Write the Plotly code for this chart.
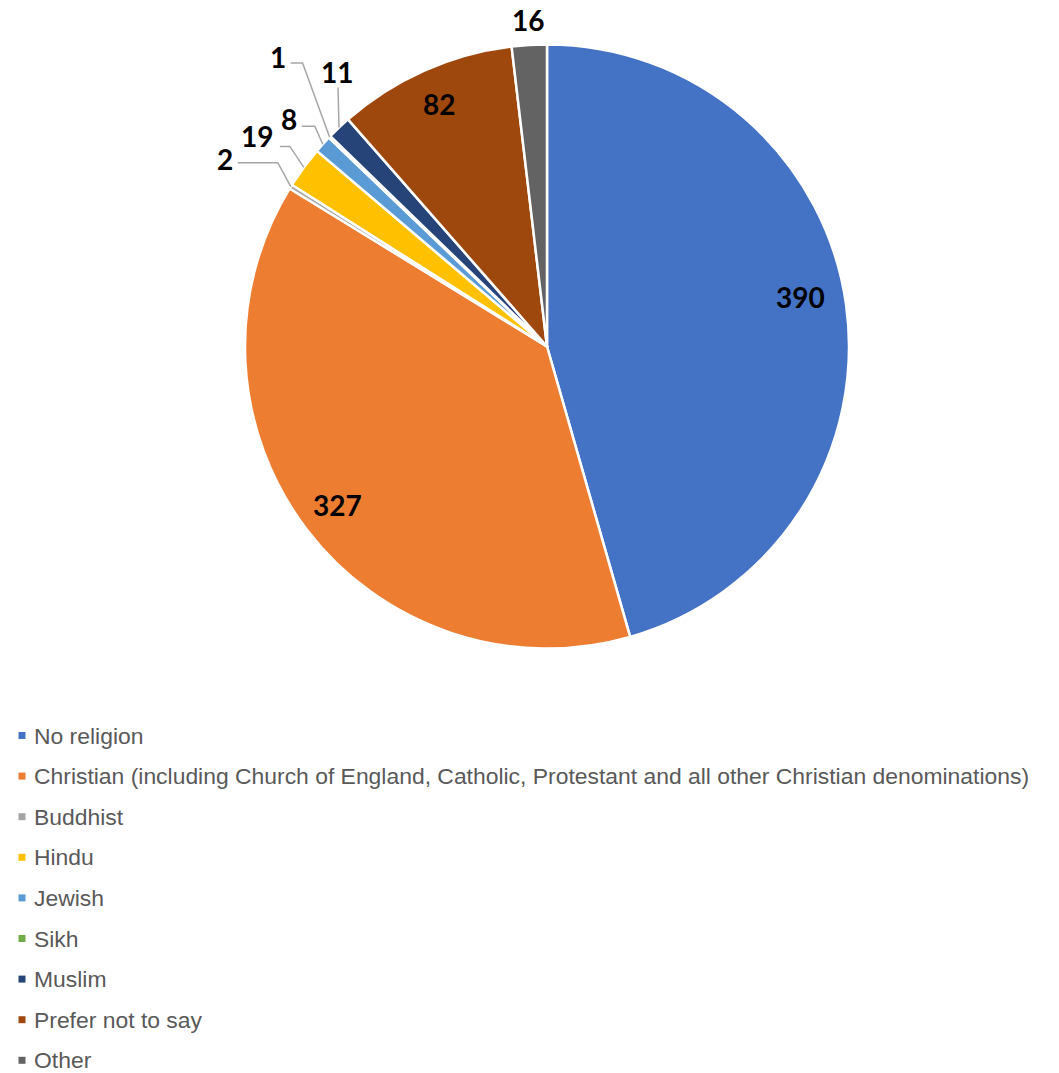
import math
import plotly.graph_objects as go

# ---- data ----
categories = [
    "No religion",
    "Christian (including Church of England, Catholic, Protestant and all other Christian denominations)",
    "Buddhist",
    "Hindu",
    "Jewish",
    "Sikh",
    "Muslim",
    "Prefer not to say",
    "Other",
]
counts = [390, 327, 2, 19, 8, 1, 11, 82, 16]
colors = ["#4472C4", "#ED7D31", "#A5A5A5", "#FFC000", "#5B9BD5",
          "#70AD47", "#264478", "#9E480E", "#636363"]

# ---- layout/style ----
W, H = 1059, 1073
CX, CY, R = 547, 346.5, 302          # pie centre / radius in px
# label placement style: ("in", radius fraction, nudge dx, nudge dy) or
# ("out", label offset from slice edge, leader line points offsets)
label_style = [
    ("in", 0.86, -4, -13),
    ("in", 0.87, 0, 0),
    ("out", (-66, -28), [(-13, -24), (-53, -24)]),
    ("out", (-47, -31), [(-14, -21), (-24, -21)]),
    ("out", (-34, -25), [(-8, -18), (-21, -18)]),
    ("out", (-52, -80), [(-27, -74), (-39, -74)]),
    ("out", (-2, -56), [(-1, -40)]),
    ("in", 0.88, 0, 0),
    ("out", (-1, -25), []),
]
LABEL_FONT = dict(family="Lato, 'Open Sans', sans-serif", size=28, color="#000000")
LEG_FONT = dict(family="Liberation Sans, Arial, sans-serif", size=22.9, color="#595959")
LEG_Y0, LEG_DY, LEG_SQ_X, LEG_TXT_X, LEG_SQ = 735.5, 40.6, 22, 32, 7


def px(x):
    return x / W


def py(y):
    return 1 - y / H


fig = go.Figure()
fig.add_trace(go.Pie(
    labels=categories,
    values=counts,
    sort=False,
    direction="clockwise",
    rotation=0,
    marker=dict(colors=colors, line=dict(color="#FFFFFF", width=2.5)),
    textinfo="none",
    hoverinfo="label+value",
    showlegend=False,
    domain=dict(x=[px(CX - R), px(CX + R)], y=[py(CY + R), py(CY - R)]),
))

annotations = []
shapes = []
total = sum(counts)
cum = 0
for v, st in zip(counts, label_style):
    mid = (cum + v / 2) / total * 2 * math.pi
    cum += v
    sx, sy = math.sin(mid), -math.cos(mid)
    if st[0] == "in":
        _, frac, ndx, ndy = st
        lx = CX + frac * R * sx + ndx
        ly = CY + frac * R * sy + ndy
    else:
        _, (ox, oy), pts = st
        ax_, ay_ = CX + R * sx, CY + R * sy
        lx, ly = ax_ + ox, ay_ + oy
        if pts:
            path = "M %f %f" % (px(ax_), py(ay_))
            for (ex, ey) in pts:
                path += " L %f %f" % (px(ax_ + ex), py(ay_ + ey))
            shapes.append(dict(type="path", xref="paper", yref="paper", path=path,
                               line=dict(color="#A6A6A6", width=1.5)))
    annotations.append(dict(x=px(lx), y=py(ly), xref="paper", yref="paper",
                            text="<b>%d</b>" % v, showarrow=False,
                            xanchor="center", yanchor="middle", font=LABEL_FONT))

# legend (built from categories/colors)
for i, (cat, col) in enumerate(zip(categories, colors)):
    yc = LEG_Y0 + i * LEG_DY
    shapes.append(dict(type="rect", xref="paper", yref="paper",
                       x0=px(LEG_SQ_X - LEG_SQ / 2), x1=px(LEG_SQ_X + LEG_SQ / 2),
                       y0=py(yc + LEG_SQ / 2), y1=py(yc - LEG_SQ / 2),
                       fillcolor=col, line=dict(width=0)))
    annotations.append(dict(x=px(LEG_TXT_X), y=py(yc), xref="paper", yref="paper",
                            text=cat, showarrow=False, xanchor="left", yanchor="middle",
                            font=LEG_FONT))

fig.update_layout(
    width=W, height=H,
    margin=dict(l=0, r=0, t=0, b=0),
    paper_bgcolor="white", plot_bgcolor="white",
    showlegend=False,
    annotations=annotations,
    shapes=shapes,
)

fig.write_html("out.html", config={"displayModeBar": False},
               post_script="document.body.style.margin='0';document.body.style.overflow='hidden';")
